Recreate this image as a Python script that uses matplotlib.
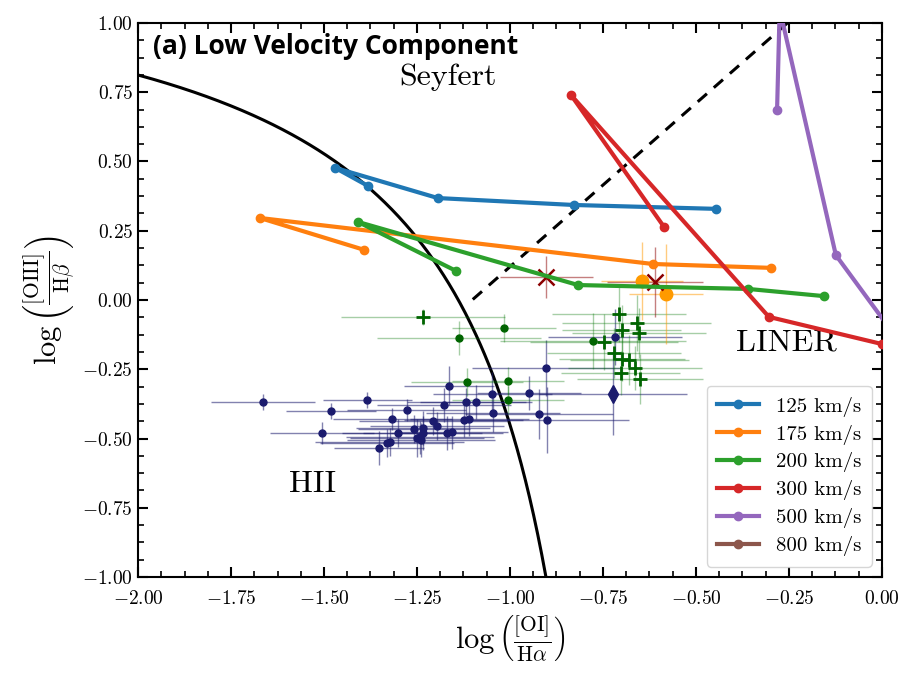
import numpy as np
import matplotlib.pyplot as plt
from matplotlib.ticker import AutoMinorLocator, MultipleLocator

plt.rcParams['font.family'] = 'serif'
plt.rcParams['font.serif'] = ['cmr10', 'DejaVu Serif']
plt.rcParams['mathtext.fontset'] = 'cm'
plt.rcParams['axes.formatter.use_mathtext'] = True
plt.rcParams['axes.unicode_minus'] = True

# shock model grids (log OI/Ha, log OIII/Hb), one line per shock velocity
v125_x = [-1.382, -1.470, -1.194, -0.828, -0.446]
v125_y = [0.412, 0.477, 0.368, 0.343, 0.329]
v175_x = [-1.392, -1.672, -0.616, -0.298]
v175_y = [0.181, 0.296, 0.130, 0.116]
v200_x = [-1.145, -1.409, -0.817, -0.360, -0.156]
v200_y = [0.105, 0.282, 0.054, 0.040, 0.014]
v300_x = [-0.586, -0.836, -0.304, 0.0]
v300_y = [0.264, 0.740, -0.061, -0.159]
v500_x = [-0.282, -0.275, -0.124, 0.03]
v500_y = [0.686, 1.05, 0.162, -0.12]
v800_x = [0.35, 0.45]
v800_y = [1.3, 1.4]
models = [("125 km/s", v125_x, v125_y), ("175 km/s", v175_x, v175_y),
          ("200 km/s", v200_x, v200_y), ("300 km/s", v300_x, v300_y),
          ("500 km/s", v500_x, v500_y), ("800 km/s", v800_x, v800_y)]

# observed spaxels - HII-like (navy circles)
hii_x = [-1.664, -1.384, -1.481, -1.277, -1.505, -1.317, -1.352, -1.331, -1.323,
         -1.301, -1.258, -1.234, -1.234, -1.242, -1.250, -1.239, -1.207, -1.196,
         -1.177, -1.164, -1.169, -1.156, -1.124, -1.110, -1.118, -1.091, -1.048,
         -1.046, -0.949, -0.922, -0.903, -0.901, -0.718]
hii_y = [-0.368, -0.361, -0.401, -0.397, -0.480, -0.430, -0.534, -0.516, -0.513,
         -0.480, -0.466, -0.462, -0.480, -0.495, -0.498, -0.505, -0.437, -0.455,
         -0.379, -0.310, -0.480, -0.477, -0.433, -0.430, -0.368, -0.368, -0.339,
         -0.408, -0.336, -0.412, -0.245, -0.433, -0.134]
hii_xe = [0.14, 0.12, 0.12, 0.16, 0.14, 0.16, 0.12, 0.18, 0.20,
          0.15, 0.15, 0.18, 0.16, 0.20, 0.18, 0.20, 0.20, 0.18,
          0.18, 0.12, 0.15, 0.15, 0.16, 0.16, 0.16, 0.15, 0.16,
          0.18, 0.14, 0.20, 0.20, 0.22, 0.18]
hii_ye = [0.03, 0.03, 0.03, 0.04, 0.04, 0.04, 0.06, 0.05, 0.05,
          0.05, 0.05, 0.06, 0.06, 0.06, 0.07, 0.06, 0.05, 0.05,
          0.06, 0.07, 0.06, 0.06, 0.06, 0.06, 0.05, 0.06, 0.08,
          0.07, 0.06, 0.09, 0.10, 0.12, 0.10]
nuc_x, nuc_y, nuc_xe, nuc_ye = [-0.723], [-0.339], [0.20], [0.15]

# green circles and crosses
gc_x = [-1.116, -1.005, -1.005, -1.137, -1.016, -0.777]
gc_y = [-0.296, -0.292, -0.361, -0.137, -0.101, -0.148]
gc_xe = [0.15, 0.15, 0.15, 0.22, 0.14, 0.25]
gc_ye = [0.05, 0.05, 0.05, 0.06, 0.05, 0.10]
gp_x = [-1.234, -0.707, -0.699, -0.659, -0.653, -0.747, -0.720, -0.699, -0.680,
        -0.664, -0.702, -0.651]
gp_y = [-0.061, -0.051, -0.108, -0.083, -0.119, -0.152, -0.191, -0.213, -0.217,
        -0.245, -0.264, -0.285]
gp_xe = [0.22, 0.18, 0.16, 0.20, 0.18, 0.20, 0.18, 0.17, 0.16, 0.18, 0.16, 0.17]
gp_ye = [0.03, 0.10, 0.09, 0.10, 0.09, 0.10, 0.09, 0.08, 0.09, 0.08, 0.08, 0.09]

# orange circles and dark red crosses
or_x, or_y = [-0.645, -0.581], [0.069, 0.022]
or_xe, or_ye = [0.11, 0.10], [0.14, 0.18]
xr_x, xr_y = [-0.903, -0.610], [0.083, 0.065]
xr_xe, xr_ye = [0.125, 0.13], [0.075, 0.125]

fig = plt.figure(figsize=(9.17, 6.84), dpi=100)
ax = fig.add_axes([0.1505, 0.1564, 0.8113, 0.81])

# Kewley et al. 2006 demarcation lines
kx = np.linspace(-2.0, -0.9035, 300)
ax.plot(kx, 0.73 / (kx + 0.59) + 1.33, color='black', lw=2.2)
sx = np.linspace(-1.1, -0.254, 50)
ax.plot(sx, 1.18 * sx + 1.30, color='black', lw=2.2, ls=(0, (4, 3)))

ax.errorbar(hii_x, hii_y, xerr=hii_xe, yerr=hii_ye, fmt='o', color='#1b1b6e',
            ms=5, elinewidth=1, ecolor=(0.11, 0.11, 0.43, 0.55), zorder=3)
ax.errorbar(nuc_x, nuc_y, xerr=nuc_xe, yerr=nuc_ye, fmt='d', color='#1b1b6e',
            ms=9, elinewidth=1, ecolor=(0.11, 0.11, 0.43, 0.55), zorder=3)
ax.errorbar(gc_x, gc_y, xerr=gc_xe, yerr=gc_ye, fmt='o', color='#006400',
            ms=5, elinewidth=1, ecolor=(0.0, 0.45, 0.0, 0.35), zorder=3)
ax.errorbar(gp_x, gp_y, xerr=gp_xe, yerr=gp_ye, fmt='+', color='#006400',
            ms=10, mew=2, elinewidth=1, ecolor=(0.0, 0.45, 0.0, 0.35), zorder=3)
ax.errorbar(or_x, or_y, xerr=or_xe, yerr=or_ye, fmt='o', color='#ff9a00',
            ms=9, elinewidth=1, ecolor=(1.0, 0.6, 0.0, 0.5), zorder=3)
ax.errorbar(xr_x, xr_y, xerr=xr_xe, yerr=xr_ye, fmt='x', color='#8b0000',
            ms=11, mew=1.8, elinewidth=1, ecolor=(0.55, 0.0, 0.0, 0.5), zorder=3)

for i, (lab, mx, my) in enumerate(models):
    ax.plot(mx, my, '-o', color='C%d' % i, lw=3, ms=6, label=lab, zorder=4)

ax.set_xlim(-2.0, 0.0)
ax.set_ylim(-1.0, 1.0)
ax.xaxis.set_major_locator(MultipleLocator(0.25))
ax.yaxis.set_major_locator(MultipleLocator(0.25))
ax.xaxis.set_minor_locator(AutoMinorLocator(4))
ax.yaxis.set_minor_locator(AutoMinorLocator(4))
ax.tick_params(which='both', direction='in', top=True, right=True, labelsize=14)
ax.tick_params(axis='x', which='major', pad=9)
ax.tick_params(which='major', length=7, width=1.5)
ax.tick_params(which='minor', length=4, width=1.2)
for s in ax.spines.values():
    s.set_linewidth(1.5)

ax.set_xlabel(r'$\log\left(\frac{[\mathrm{OI}]}{\mathrm{H}\alpha}\right)$', fontsize=22)
ax.set_ylabel(r'$\log\left(\frac{[\mathrm{OIII}]}{\mathrm{H}\beta}\right)$', fontsize=22)

ax.text(0.02, 0.957, '(a) Low Velocity Component', transform=ax.transAxes,
        fontsize=19, fontweight='bold', family='Open Sans', va='center')
ax.text(-1.167, 0.805, 'Seyfert', fontsize=23, ha='center', va='center')
ax.text(-0.258, -0.155, 'LINER', fontsize=23, ha='center', va='center')
ax.text(-1.532, -0.665, 'HII', fontsize=23, ha='center', va='center')

leg = ax.legend(loc='lower right', fontsize=15, fancybox=True, framealpha=0.8,
                borderpad=0.5, labelspacing=0.38, handlelength=2.0)

fig.savefig('out.png', dpi=100)
